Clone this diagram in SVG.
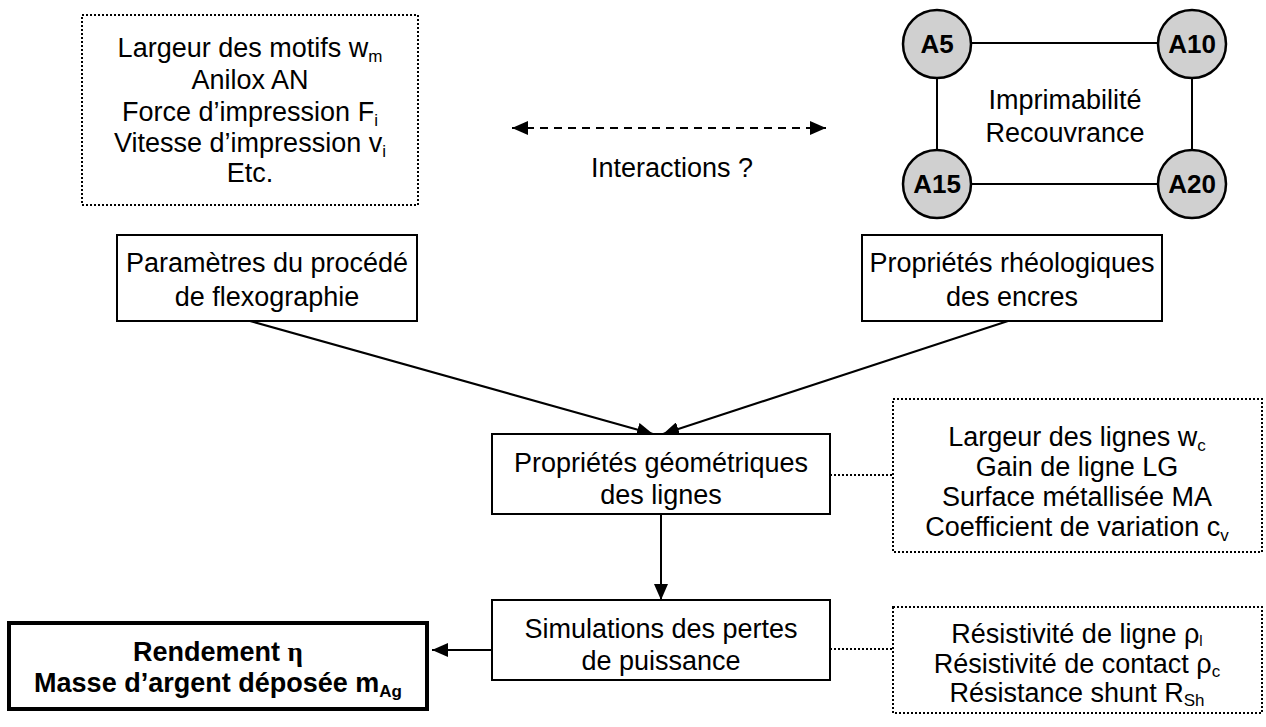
<svg xmlns="http://www.w3.org/2000/svg" width="1266" height="727" viewBox="0 0 1266 727">
<style>
text{font-family:"Liberation Sans",Arial,sans-serif;font-size:27px;fill:#000;text-anchor:middle}
.b{font-weight:bold;font-size:27px}
.lbl{font-weight:bold;font-size:26px}
.box{fill:#fff;stroke:#000;stroke-width:2}
.dot{fill:#fff;stroke:#000;stroke-width:2;stroke-dasharray:2 2}
.thick{fill:#fff;stroke:#000;stroke-width:4}
.circ{fill:#d0d0d0;stroke:#000;stroke-width:2.5}
.ln{stroke:#000;stroke-width:2;fill:none}
.dl{stroke:#000;stroke-width:2;fill:none;stroke-dasharray:2 2}
.sub{font-size:17px}
.gr{font-family:"Liberation Serif","Times New Roman",serif}
</style>
<defs>
<marker id="ahb" viewBox="0 0 16 14" refX="16" refY="7" markerWidth="16" markerHeight="14" markerUnits="userSpaceOnUse" orient="auto-start-reverse">
<path d="M0,0 L16,7 L0,14 z" fill="#000"/>
</marker>
</defs>

<g id="connectors">
<line class="ln" x1="250" y1="321" x2="653" y2="434" marker-end="url(#ahb)"/>
<line class="ln" x1="1008" y1="321" x2="663" y2="434" marker-end="url(#ahb)"/>
<line class="ln" x1="661" y1="514" x2="661" y2="600" marker-end="url(#ahb)"/>
<line class="ln" x1="492" y1="650" x2="432" y2="650" marker-end="url(#ahb)"/>
<line class="dl" x1="830" y1="475" x2="893" y2="475"/>
<line class="dl" x1="830" y1="649" x2="893" y2="649"/>
<line x1="512" y1="128" x2="826" y2="128" stroke="#000" stroke-width="2" stroke-dasharray="8 6" marker-start="url(#ahb)" marker-end="url(#ahb)"/>
<line class="ln" x1="971" y1="43" x2="1158" y2="43"/>
<line class="ln" x1="971" y1="184" x2="1158" y2="184"/>
<line class="ln" x1="937" y1="78" x2="937" y2="150"/>
<line class="ln" x1="1192" y1="78" x2="1192" y2="150"/>
</g>

<g id="params-list">
<rect class="dot" x="82" y="15" width="336" height="190"/>
<text x="250" y="57">Largeur des motifs w<tspan class="sub" dy="5">m</tspan></text>
<text x="250" y="89">Anilox AN</text>
<text x="250" y="121">Force d’impression F<tspan class="sub" dy="5">i</tspan></text>
<text x="250" y="152">Vitesse d’impression v<tspan class="sub" dy="5">i</tspan></text>
<text x="250" y="182">Etc.</text>
</g>

<g id="interactions">
<text x="672" y="177">Interactions ?</text>
</g>

<g id="printability">
<text x="1065" y="109">Imprimabilité</text>
<text x="1065" y="142">Recouvrance</text>
</g>
<g id="A5"><circle class="circ" cx="937" cy="44" r="34"/><text class="lbl" x="937" y="53">A5</text></g>
<g id="A10"><circle class="circ" cx="1192" cy="44" r="34"/><text class="lbl" x="1192" y="53">A10</text></g>
<g id="A15"><circle class="circ" cx="937" cy="184" r="34"/><text class="lbl" x="937" y="193">A15</text></g>
<g id="A20"><circle class="circ" cx="1192" cy="184" r="34"/><text class="lbl" x="1192" y="193">A20</text></g>

<g id="procede">
<rect class="box" x="117" y="235" width="300" height="86"/>
<text x="267" y="272">Paramètres du procédé</text>
<text x="267" y="306">de flexographie</text>
</g>

<g id="encres">
<rect class="box" x="862" y="235" width="300" height="86"/>
<text x="1012" y="272">Propriétés rhéologiques</text>
<text x="1012" y="306">des encres</text>
</g>

<g id="geometrie">
<rect class="box" x="492" y="434" width="338" height="80"/>
<text x="661" y="472">Propriétés géométriques</text>
<text x="661" y="504">des lignes</text>
</g>

<g id="geo-list">
<rect class="dot" x="893" y="399" width="369" height="153"/>
<text x="1077" y="446">Largeur des lignes w<tspan class="sub" dy="5">c</tspan></text>
<text x="1077" y="476">Gain de ligne LG</text>
<text x="1077" y="506">Surface métallisée MA</text>
<text x="1077" y="536">Coefficient de variation c<tspan class="sub" dy="5">v</tspan></text>
</g>

<g id="simulations">
<rect class="box" x="492" y="600" width="338" height="80"/>
<text x="661" y="638">Simulations des pertes</text>
<text x="661" y="670">de puissance</text>
</g>

<g id="sim-list">
<rect class="dot" x="893" y="607" width="369" height="106"/>
<text x="1077" y="643">Résistivité de ligne  ρ<tspan font-size="15" dy="3">l</tspan></text>
<text x="1077" y="673">Résistivité de contact ρ<tspan class="sub" dy="4">c</tspan></text>
<text x="1077" y="702">Résistance shunt R<tspan class="sub" dy="4">Sh</tspan></text>
</g>

<g id="rendement">
<rect class="thick" x="9" y="623" width="418" height="86"/>
<text class="b" x="218" y="661">Rendement <tspan class="gr">η</tspan></text>
<text class="b" x="218" y="692">Masse d’argent déposée m<tspan class="sub" dy="5">Ag</tspan></text>
</g>
</svg>
